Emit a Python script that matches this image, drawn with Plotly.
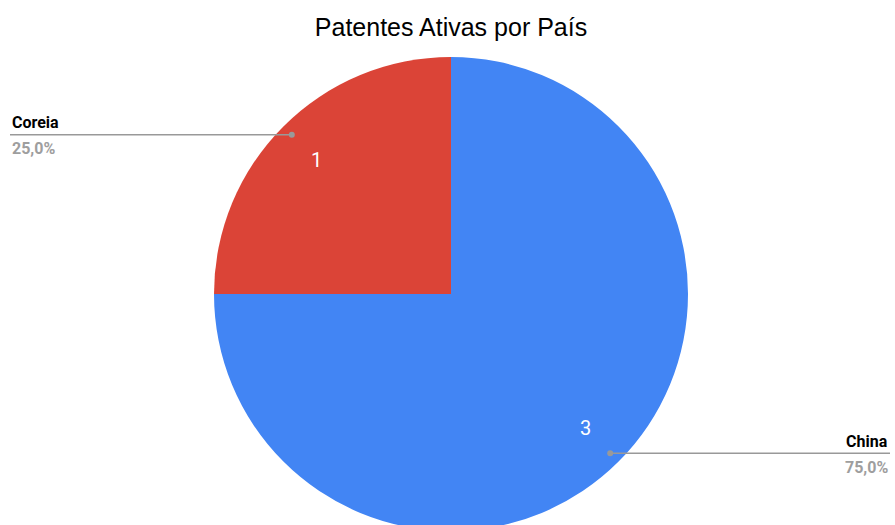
import math
import plotly.graph_objects as go

# Dados
paises = ["China", "Coreia"]
patentes = [3, 1]
cores = ["#4285F4", "#DB4437"]
titulo = "Patentes Ativas por País"

W, H = 895, 540
cx_px, cy_px, r_px = 451, 294, 237

fig = go.Figure()
fig.add_trace(go.Pie(
    labels=paises,
    values=patentes,
    sort=False,
    direction="clockwise",
    rotation=0,
    marker=dict(colors=cores, line=dict(width=0)),
    textinfo="none",
    domain=dict(x=[(cx_px - r_px) / W, (cx_px + r_px) / W],
                y=[1 - (cy_px + r_px) / H, 1 - (cy_px - r_px) / H]),
    hoverinfo="label+value+percent",
    showlegend=False,
))

# valores dentro das fatias e rótulos externos com linhas de chamada
total = sum(patentes)
inicio = 0.0
for nome, v in zip(paises, patentes):
    meio = inicio + v / total * 180.0
    inicio += v / total * 360.0
    ang = math.radians(meio)
    dx, dy = math.sin(ang), -math.cos(ang)

    # número dentro da fatia
    tx = cx_px + 0.8 * r_px * dx
    ty = cy_px + 0.8 * r_px * dy
    fig.add_annotation(x=tx / W, y=1 - ty / H, xref="paper", yref="paper",
                       text=str(v), showarrow=False,
                       xanchor="center", yanchor="middle",
                       font=dict(family="Roboto", size=20, color="white"))

    px = cx_px + 0.95 * r_px * dx
    py = cy_px + 0.95 * r_px * dy
    pct = f"{v / total * 100:.1f}".replace(".", ",") + "%"
    if dx < 0:
        x_end, anchor = 10, "left"
    else:
        x_end, anchor = 890, "right"
    fig.add_shape(type="line", xref="paper", yref="paper",
                  x0=px / W, x1=x_end / W, y0=1 - py / H, y1=1 - py / H,
                  line=dict(color="#999999", width=1.5))
    fig.add_shape(type="circle", xref="paper", yref="paper",
                  x0=(px - 3) / W, x1=(px + 3) / W,
                  y0=1 - (py + 3) / H, y1=1 - (py - 3) / H,
                  fillcolor="#999999", line=dict(width=0))
    fig.add_annotation(x=x_end / W, y=1 - (py - 12) / H, xref="paper", yref="paper",
                       text=f"<b>{nome}</b>", showarrow=False,
                       xanchor=anchor, yanchor="middle",
                       font=dict(family="Roboto", size=16, color="#000000"))
    fig.add_annotation(x=x_end / W, y=1 - (py + 14) / H, xref="paper", yref="paper",
                       text=f"<b>{pct}</b>", showarrow=False,
                       xanchor=anchor, yanchor="middle",
                       font=dict(family="Roboto", size=16, color="#9E9E9E"))

fig.update_layout(
    width=W, height=H,
    margin=dict(l=0, r=0, t=0, b=0),
    paper_bgcolor="white",
    plot_bgcolor="white",
    title=dict(text=titulo, x=451 / W, xanchor="center", y=1 - 27 / H, yanchor="middle",
               font=dict(family="Liberation Sans, Arial", size=25, color="#000000")),
)

fig.write_html("out.html", config={"displayModeBar": False},
               post_script="document.body.style.margin='0';document.body.style.overflow='hidden';")
